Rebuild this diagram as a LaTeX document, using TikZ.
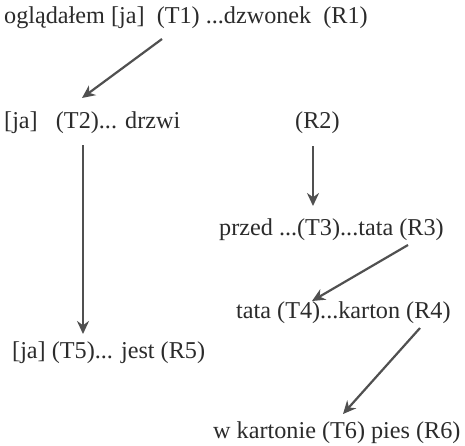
\documentclass[tikz,border=0pt]{standalone}
\usepackage{fontspec}
\setmainfont{Liberation Serif}
\usetikzlibrary{arrows.meta}
\definecolor{ink}{HTML}{2B2B2B}
\definecolor{arrowgray}{HTML}{505050}
\tikzset{
  lbl/.style={anchor=west, inner sep=0pt, text=ink, font=\fontsize{24.2}{28}\selectfont},
  arr/.style={draw=arrowgray, line width=2.2pt, -{Stealth[length=13pt,width=12pt]}},
}
\begin{document}
\begin{tikzpicture}[x=1pt,y=-1pt]
\useasboundingbox[fill=white] (0,0) rectangle (465,445);
\node[lbl] (t1) at (4,18) {ogl\k{a}da\l em [ja]\ \ (T1) ...dzwonek\ \ (R1)};
\node[lbl] (t2) at (4,123) {[ja]\ \ \ (T2)... drzwi};
\node[lbl] (r2) at (295,123) {(R2)};
\node[lbl] (t3) at (219,230) {przed ...(T3)...tata (R3)};
\node[lbl] (t4) at (236,313) {tata (T4)...karton (R4)};
\node[lbl] (t5) at (12,353) {[ja] (T5)... jest (R5)};
\node[lbl] (t6) at (213,433) {w kartonie (T6) pies (R6)};
\coordinate (a1s) at (162,39);
\coordinate (a1e) at (82,98);
\coordinate (a2s) at (83,145);
\coordinate (a2e) at (83,334);
\coordinate (a3s) at (313,146);
\coordinate (a3e) at (313,206);
\coordinate (a4s) at (408,245);
\coordinate (a4e) at (312,301);
\coordinate (a5s) at (420,328);
\coordinate (a5e) at (343,414);
\draw[arr] (a1s) -- (a1e);
\draw[arr, line width=2.8pt] (a2s) -- (a2e);
\draw[arr] (a3s) -- (a3e);
\draw[arr] (a4s) -- (a4e);
\draw[arr] (a5s) -- (a5e);
\end{tikzpicture}
\end{document}
